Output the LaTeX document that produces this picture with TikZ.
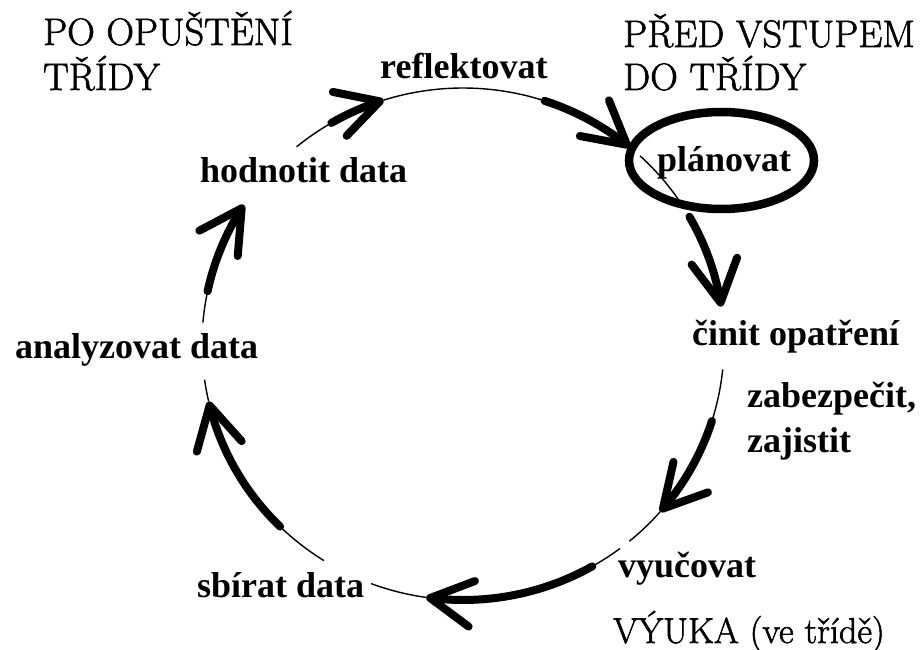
\documentclass[tikz,border=0pt]{standalone}
\usepackage{fontspec}
\setmainfont{Liberation Serif}
\newfontfamily\headfont{Latin Modern Roman}[FakeBold=1.6]
\usetikzlibrary{arrows.meta,bending}
\begin{document}
\begin{tikzpicture}[x=1pt,y=1pt,
  lbl/.style={anchor=base west, inner sep=0pt, font=\fontsize{36}{40}\selectfont\bfseries},
  head/.style={anchor=base west, inner sep=0pt, font=\headfont\fontsize{38.3}{45}\selectfont},
  thinarc/.style={line width=1.4pt},
  thickarc/.style={line width=8pt, line cap=round,
    -{Straight Barb[length=42pt,width=46pt,line cap=round,line join=round]}},
  ring/.style={line width=8.5pt}
]
\fill[white] (0,0) rectangle (922,-650);
\useasboundingbox (0,0) rectangle (922,-650);

% centre of the cycle
\coordinate (c) at (463,-344);
\newcommand\cycseg[3][thinarc]{\draw[#1] ([shift={(#2:261 and 256)}]c) arc[start angle=#2, end angle=#3, x radius=261, y radius=256];}

% headings
\node[head] (po1) at (43,-45) {PO OPUŠTĚNÍ};
\node[head] (po2) at (43,-90) {TŘÍDY};
\node[head] (pr1) at (623,-47) {PŘED VSTUPEM};
\node[head] (pr2) at (623,-90) {DO TŘÍDY};

% labels
\node[lbl] (refl) at (380,-79) {reflektovat};
\node[lbl] (hodn) at (200,-183) {hodnotit data};
\node[lbl] (plan) at (657,-172) {plánovat};
\node[lbl] (anal) at (15,-358) {analyzovat data};
\node[lbl] (cinit) at (692,-345) {činit opatření};
\node[lbl] (zab) at (747,-407) {zabezpečit,};
\node[lbl] (zaj) at (747,-452) {zajistit};
\node[lbl] (vyuc) at (618,-577) {vyučovat};
\node[lbl] (sbir) at (197,-597) {sbírat data};
\node[head, font=\headfont\fontsize{36}{40}\selectfont] (vyuka) at (613,-643) {VÝUKA (ve třídě)};

% ring around plánovat
\coordinate (ringc) at (721.5,-160.5);
\draw[ring] (ringc) ellipse [x radius=92.5, y radius=48.5];

% hodnotit -> reflektovat
\cycseg{129.6}{120.3}
\cycseg[thickarc]{120.3}{107.7}
% reflektovat -> plánovat
\cycseg{107.7}{71.8}
\cycseg[thickarc]{71.8}{50.2}
% plánovat -> činit opatření
\cycseg{47.3}{34.4}
\cycseg[thickarc]{29.8}{8.4}
% činit opatření -> vyučovat
\cycseg{-5.7}{-17.5}
\cycseg[thickarc]{-17.5}{-40.9}
\cycseg{-40.9}{-50.4}
% vyučovat -> sbírat data
\cycseg{-53}{-60.3}
\cycseg[thickarc]{-60.3}{-98.1}
\cycseg{-98.1}{-110.6}
% sbírat data -> analyzovat data
\cycseg{-122.2}{-134.5}
\cycseg[thickarc]{-134.5}{-167}
\cycseg{-167}{-172}
% analyzovat data -> hodnotit data
\cycseg{175.2}{168.1}
\cycseg[thickarc]{168.1}{147.1}
\end{tikzpicture}
\end{document}
